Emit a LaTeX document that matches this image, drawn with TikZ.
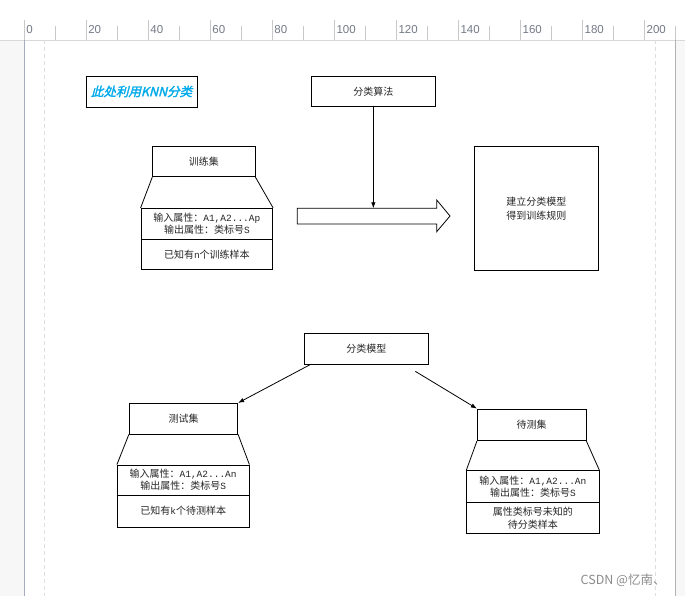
\documentclass[tikz,border=0pt]{standalone}
\usepackage{fontspec}
\setmainfont{Noto Sans CJK SC}
\newfontfamily\rulerfont{Liberation Sans}
\newfontfamily\latm{Liberation Mono}
\newfontfamily\titlefont[FakeSlant=0.25,FakeBold=2]{Noto Sans CJK SC}
\usetikzlibrary{arrows.meta,calc}
\definecolor{titleblue}{RGB}{0,170,235}
\definecolor{rulerline}{RGB}{216,216,216}
\definecolor{tickcol}{RGB}{200,200,200}
\definecolor{labcol}{RGB}{115,122,135}
\definecolor{pageedge}{RGB}{165,172,188}
\definecolor{margincol}{RGB}{222,222,222}
\newcommand{\lt}[1]{{\latm\fontsize{9.5}{12}\selectfont #1}}
\begin{document}
\begin{tikzpicture}[x=1pt,y=-1pt,
  box/.style={draw=black,line width=0.8pt,inner sep=1pt,align=center,
    font=\fontsize{10}{12.3}\selectfont,text=black!85},
  edge/.style={draw=black,line width=0.8pt},
  arr/.style={draw=black,line width=0.8pt,-{Latex[length=6pt,width=4.5pt]}},
  tickline/.style={draw=tickcol,line width=0.8pt},
  rlabel/.style={anchor=base west,inner sep=0pt,text=labcol,font=\rulerfont\fontsize{11.5}{12}\selectfont},
  marginline/.style={draw=margincol,line width=0.8pt,dash pattern=on 4pt off 3pt}]
\useasboundingbox (0,0) rectangle (685,596);
% background / page
\fill[white] (0,0) rectangle (685,596);
\fill[black!3] (0,40) rectangle (24.3,596);
\fill[black!3] (675.3,40) rectangle (685,596);
\draw[rulerline,line width=0.8pt] (0,40) -- (685,40);
\draw[pageedge,line width=1.6pt] (24.3,40) -- (24.3,596);
\draw[black!30,line width=1pt] (675.3,40) -- (675.3,596);
\draw[marginline] (44.3,40) -- (44.3,596);
\draw[marginline] (655.7,40) -- (655.7,596);
% ruler
\foreach \i [evaluate=\i as \xx using 24.3+62.04*\i, evaluate=\i as \lab using int(20*\i)] in {0,...,10} {
  \draw[tickline] (\xx,20) -- (\xx,40);
  \node[rlabel] (r\i) at (\xx+1.8,33.5) {\lab};
}
\foreach \i [evaluate=\i as \xx using 55.32+62.04*\i] in {0,...,10} {
  \draw[tickline] (\xx,26) -- (\xx,40);
}
% title
\node[box,minimum width=111pt,minimum height=31pt,font=\titlefont\fontsize{12.5}{15}\selectfont,text=titleblue] (title) at (141.5,91.5) {此处利用KNN分类};
% algorithm
\node[box,minimum width=124.7pt,minimum height=30.7pt] (alg) at (373.35,91.35) {分类算法};
% training set
\node[box,minimum width=102.3pt,minimum height=30pt] (train) at (203.85,161.7) {训练集};
\node[box,minimum width=131.7pt,minimum height=31pt] (trainio) at (206.85,223.8) {输入属性：\lt{A1,A2...Ap}\\输出属性：类标号\lt{S}};
\node[box,minimum width=131.7pt,minimum height=30pt] (trainn) at (206.85,254.3) {已知有\lt{n}个训练样本};
\draw[edge] (train.south west) -- (trainio.north west);
\draw[edge] (train.south east) -- (trainio.north east);
% big block arrow
\draw[edge] (297.3,208.3) -- (436.7,208.3) -- (436.7,200) -- (450,216) -- (436.7,231.7) -- (436.7,224) -- (297.3,224) -- cycle;
\coordinate (bigtop) at (373.35,208.3);
\draw[arr] (alg.south) -- (bigtop);
% rule box
\node[box,minimum width=124pt,minimum height=123.3pt,font=\fontsize{10}{14}\selectfont] (rule) at (536.3,208.35) {建立分类模型\\得到训练规则};
% model
\node[box,minimum width=124pt,minimum height=30.7pt] (model) at (366.3,348.65) {分类模型};
% test set
\node[box,minimum width=108.4pt,minimum height=30.7pt] (test) at (183.5,418.65) {测试集};
\node[box,minimum width=131.7pt,minimum height=30pt] (testio) at (183.15,480) {输入属性：\lt{A1,A2...An}\\输出属性：类标号\lt{S}};
\node[box,minimum width=131.7pt,minimum height=32.3pt] (testn) at (183.15,511.15) {已知有\lt{k}个待测样本};
\draw[edge] (test.south west) -- (testio.north west);
\draw[edge] (test.south east) -- (testio.north east);
\draw[draw=black,line width=1.8pt] (testio.south west) -- (testio.south east);
% pending set
\node[box,minimum width=108.7pt,minimum height=31.7pt] (pend) at (531.65,424.85) {待测集};
\node[box,minimum width=132.3pt,minimum height=32pt] (pendio) at (532.85,486.7) {输入属性：\lt{A1,A2...An}\\输出属性：类标号\lt{S}};
\node[box,minimum width=132.3pt,minimum height=30.6pt,font=\fontsize{10}{13.6}\selectfont] (pendn) at (532.85,518) {属性类标号未知的\\待分类样本};
\draw[edge] (pend.south west) -- (pendio.north west);
\draw[edge] (pend.south east) -- (pendio.north east);
% arrows from model
\draw[arr] ([xshift=6.7pt]model.south west) -- (test.north east);
\draw[arr] ([xshift=-13.3pt,yshift=-7pt]model.south east) -- (pend.north west);
% watermark
\node[anchor=west,inner sep=0pt,text=black!45,font=\fontsize{12.5}{14}\selectfont] (wm) at (580.5,580) {CSDN @忆南、};
\end{tikzpicture}
\end{document}
